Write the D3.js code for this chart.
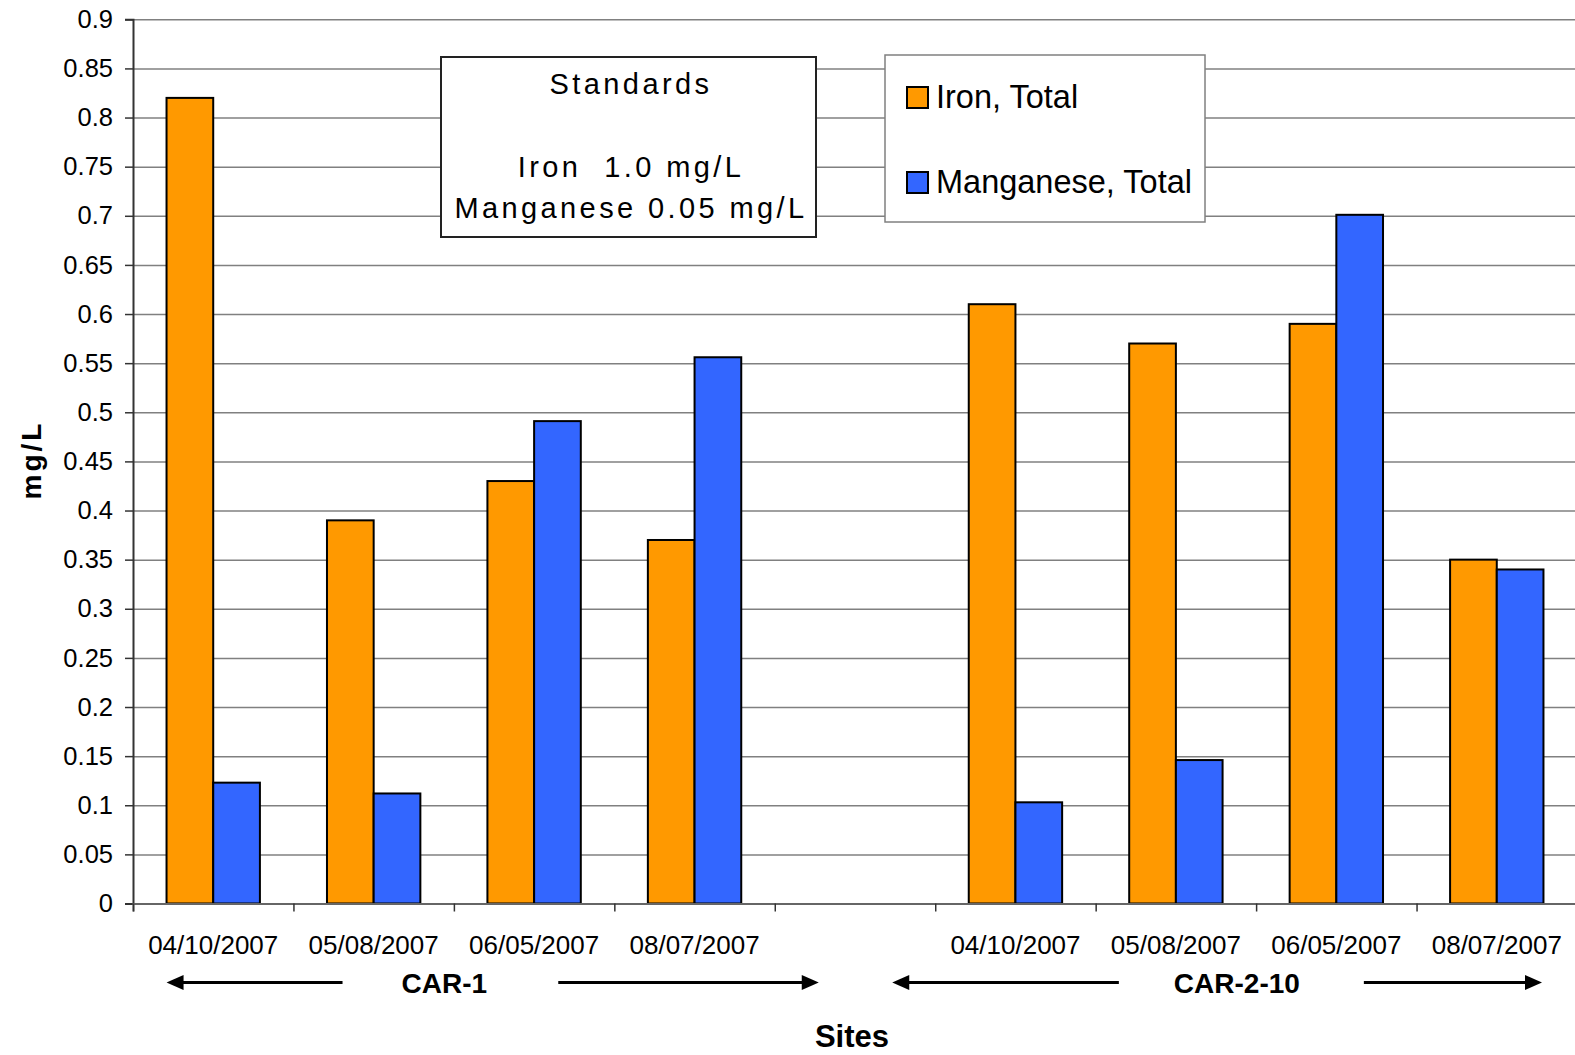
<!DOCTYPE html>
<html>
<head>
<meta charset="utf-8">
<script src="https://cdn.jsdelivr.net/npm/d3@7"></script>
<style>
  html, body { margin: 0; padding: 0; overflow: hidden; background: #fff; }
  svg { display: block; width: 100vw; height: 100vh; font-family: "Liberation Sans", Arial, sans-serif; }
</style>
</head>
<body>
<svg id="chart" viewBox="0 0 1575 1055" preserveAspectRatio="none"></svg>
<script>
// chart data (slot 4 is the blank gap between the two sites)
const dates = ["04/10/2007", "05/08/2007", "06/05/2007", "08/07/2007", "",
               "04/10/2007", "05/08/2007", "06/05/2007", "08/07/2007"];
const iron = [0.82, 0.39, 0.43, 0.37, null, 0.61, 0.57, 0.59, 0.35];
const manganese = [0.123, 0.112, 0.491, 0.556, null, 0.103, 0.146, 0.701, 0.34];
const seriesNames = ["Iron, Total", "Manganese, Total"];
const seriesColors = ["#ff9900", "#3366ff"];
const yTicks = [0, 0.05, 0.1, 0.15, 0.2, 0.25, 0.3, 0.35, 0.4, 0.45,
                0.5, 0.55, 0.6, 0.65, 0.7, 0.75, 0.8, 0.85, 0.9];
const sites = [
    {name: "CAR-1", first: 0, last: 3},
    {name: "CAR-2-10", first: 5, last: 8}
];
const standards = ["Standards", "", "Iron  1.0 mg/L", "Manganese 0.05 mg/L"];

var svg = d3.select("#chart"),
    margin = {top: 19.3, right: -2, bottom: 151.5, left: 133},
    width = 1575 - margin.left - margin.right,
    height = 1055 - margin.top - margin.bottom;

var g = svg.append("g")
    .attr("transform", "translate(" + margin.left + "," + margin.top + ")");

// scales
var slots = d3.range(dates.length);
var x = d3.scaleBand().domain(slots).range([0, width])
    .paddingInner(0.418).paddingOuter(0.209);
var xSlot = d3.scaleLinear().domain([0, slots.length]).range([0, width]);
var x1 = d3.scaleBand().domain([0, 1]).range([0, x.bandwidth()]);
var y = d3.scaleLinear().domain([0, 0.9]).range([height, 0]);

// gridlines
g.append("g")
    .attr("class", "grid")
    .call(d3.axisLeft(y).tickValues(yTicks).tickSize(-width).tickFormat(""))
    .call(s => s.select(".domain").remove())
    .call(s => s.selectAll("line").attr("stroke", "#808080").attr("stroke-width", 1.5));

// bars
var rows = slots.filter(i => iron[i] != null).map(i => ({slot: i, vals: [iron[i], manganese[i]]}));
var groups = g.selectAll(".slot").data(rows).enter()
    .append("g")
    .attr("class", "slot")
    .attr("transform", d => "translate(" + x(d.slot) + ",0)");
groups.selectAll("rect")
    .data(d => d.vals.map((v, k) => ({k: k, v: v})))
    .enter().append("rect")
    .attr("x", d => x1(d.k))
    .attr("width", x1.bandwidth())
    .attr("y", d => y(d.v))
    .attr("height", d => height - y(d.v))
    .attr("fill", d => seriesColors[d.k])
    .attr("stroke", "#000")
    .attr("stroke-width", 2);

// y axis
var yAxis = g.append("g")
    .call(d3.axisLeft(y).tickValues(yTicks).tickSize(8).tickPadding(12)
        .tickFormat(d => String(+d.toFixed(2))));
yAxis.select(".domain").attr("stroke", "#333").attr("stroke-width", 2);
yAxis.selectAll("line").attr("stroke", "#333").attr("stroke-width", 1.5);
yAxis.selectAll("text").attr("font-size", 25.5).attr("fill", "#000")
    .attr("font-family", "Liberation Sans, Arial, sans-serif");

// x axis: tick marks at slot boundaries, labels centred under slots
var xTicks = g.append("g")
    .attr("transform", "translate(0," + height + ")")
    .call(d3.axisBottom(xSlot).tickValues(d3.range(slots.length + 1)).tickSize(8).tickFormat(""));
xTicks.select(".domain").attr("stroke", "#666").attr("stroke-width", 2);
xTicks.selectAll("line").attr("stroke", "#333").attr("stroke-width", 1.5);

var xLabels = g.append("g")
    .attr("transform", "translate(0," + height + ")")
    .call(d3.axisBottom(x).tickSize(0).tickPadding(32).tickFormat(i => dates[i]));
xLabels.select(".domain").remove();
xLabels.selectAll("text").attr("font-size", 26).attr("fill", "#000")
    .attr("font-family", "Liberation Sans, Arial, sans-serif");

// site labels with arrows under the dates
function arrow(x0, x1, yy) {
    var dir = x1 > x0 ? 1 : -1;
    g.append("line")
        .attr("x1", x0).attr("x2", x1 - dir * 12)
        .attr("y1", yy).attr("y2", yy)
        .attr("stroke", "#000").attr("stroke-width", 3);
    g.append("path")
        .attr("d", "M" + x1 + "," + yy + "L" + (x1 - dir * 17) + "," + (yy - 7.5) +
                   "L" + (x1 - dir * 17) + "," + (yy + 7.5) + "Z")
        .attr("fill", "#000");
}
var ay = height + 79;
sites.forEach(function(s) {
    var a = xSlot(s.first), b = xSlot(s.last + 1);
    var cx = a + (b - a) * 0.485;
    if (s.first > 0) cx = a + (b - a) * 0.47;
    g.append("text")
        .attr("x", cx).attr("y", ay + 11)
        .attr("text-anchor", "middle")
        .attr("font-size", 28).attr("font-weight", "bold")
        .text(s.name);
    if (s.first === 0) {
        arrow(x(s.first) + 176, x(s.first), ay);
        arrow(cx + 114, xSlot(s.last + 1) + 44, ay);
    } else {
        arrow(cx - 118, xSlot(s.first) - 43, ay);
        arrow(cx + 127, xSlot(s.last + 1) - 35, ay);
    }
});

// axis titles
svg.append("text")
    .attr("x", 852).attr("y", 1047)
    .attr("text-anchor", "middle")
    .attr("font-size", 31).attr("font-weight", "bold")
    .text("Sites");
svg.append("text")
    .attr("transform", "translate(41,460) rotate(-90)")
    .attr("text-anchor", "middle")
    .attr("font-size", 28).attr("font-weight", "bold")
    .attr("letter-spacing", 3)
    .text("mg/L");

// standards box
var sb = svg.append("g").attr("transform", "translate(441,57)");
sb.append("rect")
    .attr("width", 375).attr("height", 180)
    .attr("fill", "#fff").attr("stroke", "#222").attr("stroke-width", 2);
sb.selectAll("text").data(standards).enter().append("text")
    .attr("x", 190)
    .attr("y", (d, i) => [37, 78, 120, 161][i])
    .attr("text-anchor", "middle")
    .attr("font-size", 29)
    .attr("letter-spacing", 3.4)
    .style("white-space", "pre")
    .text(d => d);

// legend
var lg = svg.append("g").attr("transform", "translate(885,55)");
lg.append("rect")
    .attr("width", 320).attr("height", 167)
    .attr("fill", "#fff").attr("stroke", "#808080").attr("stroke-width", 1.5);
var items = lg.selectAll(".item").data(seriesNames).enter()
    .append("g")
    .attr("class", "item")
    .attr("transform", (d, i) => "translate(22," + (32 + i * 85) + ")");
items.append("rect")
    .attr("width", 21).attr("height", 21)
    .attr("fill", (d, i) => seriesColors[i])
    .attr("stroke", "#000").attr("stroke-width", 2);
items.append("text")
    .attr("x", 29).attr("y", 21)
    .attr("font-size", 32.5)
    .text(d => d);
</script>
</body>
</html>
